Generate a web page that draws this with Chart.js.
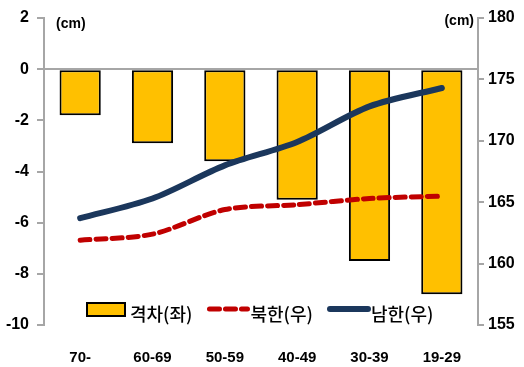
<!DOCTYPE html>
<html>
<head>
<meta charset="utf-8">
<script src="https://cdn.jsdelivr.net/npm/chart.js@4"></script>
<style>
  html, body { margin: 0; padding: 0; background: #fff; }
  #wrap { width: 524px; height: 367px; }
</style>
</head>
<body>
<div id="wrap"><canvas id="grafico"></canvas></div>
<script>
// 연령대별 남북한 평균 신장
const ageGroups = ['70-', '60-69', '50-59', '40-49', '30-39', '19-29'];
const gapValues = [-1.8, -2.9, -3.6, -5.1, -7.5, -8.8];
const northValues = [161.9, 162.4, 164.4, 164.8, 165.3, 165.5];
const southValues = [163.7, 165.3, 168.0, 169.9, 172.8, 174.3];
const leftTicks = [2, 0, -2, -4, -6, -8, -10];
const rightTicks = [180, 175, 170, 165, 160, 155];

const axisGray = '#a6a6a6';
const tickFont = { family: 'Liberation Sans, Arial, sans-serif', size: 16, weight: 'bold' };
const koFont = "'Noto Sans CJK KR', sans-serif";

// 범례를 그래프 안쪽 아래에 그림
const legendInside = {
    id: 'legendInside',
    afterDraw(chart) {
        const ctx = chart.ctx;
        const ds = chart.data.datasets;
        let x = 87;
        const y = 309;
        ctx.save();
        ctx.font = '500 18px ' + koFont;
        ctx.textBaseline = 'middle';
        ctx.textAlign = 'left';
        ds.forEach(d => {
            if (d.type === 'bar') {
                ctx.fillStyle = d.backgroundColor;
                ctx.fillRect(x, y - 6, 38, 13);
                ctx.lineWidth = 2;
                ctx.strokeStyle = '#000';
                ctx.strokeRect(x, y - 6, 38, 13);
            } else {
                ctx.beginPath();
                ctx.lineWidth = d.borderWidth;
                ctx.lineCap = 'round';
                ctx.strokeStyle = d.borderColor;
                ctx.setLineDash(d.borderDash || []);
                ctx.moveTo(x + 2, y);
                ctx.lineTo(x + 40, y);
                ctx.stroke();
                ctx.setLineDash([]);
            }
            x += 43;
            ctx.fillStyle = '#000';
            ctx.fillText(d.label, x, y + 5);
            x += ctx.measureText(d.label).width + 15;
        });
        ctx.restore();
    }
};

// 축 단위 표시
const unitLabels = {
    id: 'unitLabels',
    afterDraw(chart) {
        const ctx = chart.ctx;
        ctx.save();
        ctx.font = 'bold 14px Liberation Sans, Arial, sans-serif';
        ctx.fillStyle = '#000';
        ctx.textBaseline = 'middle';
        ctx.textAlign = 'left';
        ctx.fillText('(cm)', 56, 24);
        ctx.textAlign = 'right';
        ctx.fillText('(cm)', 474, 21);
        ctx.restore();
    }
};

new Chart(document.getElementById('grafico').getContext('2d'), {
    data: {
        labels: ageGroups,
        datasets: [
            {
                type: 'bar',
                label: '격차(좌)',
                data: gapValues,
                yAxisID: 'y',
                backgroundColor: '#ffc000',
                borderColor: '#000',
                borderWidth: 2,
                borderSkipped: false,
                barPercentage: 0.57,
                categoryPercentage: 1,
                order: 3
            },
            {
                type: 'line',
                label: '북한(우)',
                data: northValues,
                yAxisID: 'y1',
                borderColor: '#c00000',
                borderWidth: 5,
                borderDash: [10, 6],
                borderCapStyle: 'round',
                pointRadius: 0,
                tension: 0.3,
                fill: false,
                order: 2
            },
            {
                type: 'line',
                label: '남한(우)',
                data: southValues,
                yAxisID: 'y1',
                borderColor: '#1b375c',
                borderWidth: 6,
                borderCapStyle: 'round',
                pointRadius: 0,
                tension: 0.3,
                fill: false,
                order: 1
            }
        ]
    },
    options: {
        responsive: true,
        maintainAspectRatio: false,
        animation: false,
        layout: { padding: { top: 18, left: 0, right: 0, bottom: 0 } },
        plugins: {
            legend: { display: false },
            tooltip: { enabled: false }
        },
        scales: {
            x: {
                position: 'bottom',
                border: { display: false },
                grid: { display: false, drawTicks: false },
                ticks: { font: { family: tickFont.family, size: 15, weight: 'bold' }, color: '#000', padding: 24, maxRotation: 0 },
                afterFit(scale) { scale.height = 42; }
            },
            y: {
                position: 'left',
                min: -10,
                max: 2,
                afterBuildTicks(scale) { scale.ticks = leftTicks.map(v => ({ value: v })); },
                border: { display: true, color: axisGray, width: 2 },
                grid: {
                    color: ctx => ctx.tick && ctx.tick.value === 0 ? axisGray : 'rgba(0,0,0,0)',
                    lineWidth: 2,
                    tickColor: axisGray,
                    tickLength: 7,
                    drawTicks: true
                },
                ticks: { font: tickFont, color: '#000', padding: 8 },
                afterFit(scale) { scale.width = 44; }
            },
            y1: {
                position: 'right',
                min: 155,
                max: 180,
                afterBuildTicks(scale) { scale.ticks = rightTicks.map(v => ({ value: v })); },
                border: { display: true, color: axisGray, width: 2 },
                grid: { drawOnChartArea: false, tickColor: axisGray, tickLength: 6, lineWidth: 2 },
                ticks: { font: tickFont, color: '#000', padding: 4 },
                afterFit(scale) { scale.width = 46; }
            }
        }
    },
    plugins: [legendInside, unitLabels]
});
</script>
</body>
</html>
